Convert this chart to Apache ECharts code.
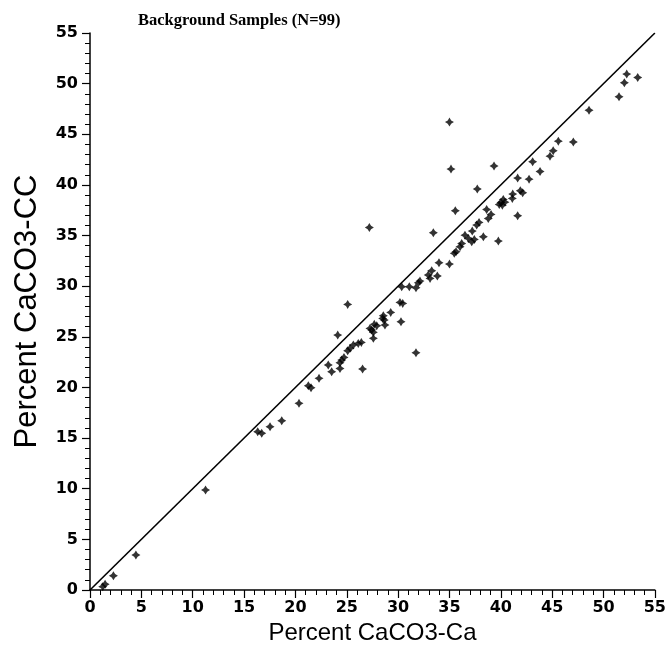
<!DOCTYPE html>
<html>
<head>
<meta charset="utf-8">
<script src="https://cdn.jsdelivr.net/npm/echarts@6/dist/echarts.min.js"></script>
<style>
html,body{margin:0;padding:0;background:#fff;}
#chart{width:669px;height:653px;}
</style>
</head>
<body>
<div id="chart"></div>
<script>
var titleText = "Background Samples (N=99)";
var xAxisName = "Percent CaCO3-Ca";
var yAxisName = "Percent CaCO3-CC";

var xValues = [
  1.24, 1.47, 2.28, 4.47, 11.25,
  25.09, 24.12, 30.18, 29.28, 28.56, 28.5, 27.68, 27.92, 28.72, 27.43, 27.59, 27.59, 30.28, 31.74,
  26.42, 25.64, 25.32, 25.09, 24.73, 24.51, 24.34, 24.34, 23.53, 23.2, 26.54, 22.3, 21.26, 21.52,
  20.35, 18.67, 17.53, 16.33, 16.72,
  35.15, 39.34, 37.71, 35.57, 33.43, 43.1, 43.82, 41.64, 42.75, 45.1, 44.79, 41.9, 42.13, 41.16,
  41.12, 40.24, 40.02, 39.85, 40.15, 41.64, 38.62, 39.05, 38.78, 37.88, 37.65, 37.22, 38.3, 39.76,
  36.51, 36.84, 37.17, 37.42, 36.19, 36.03, 35.64, 35.47, 33.98, 35.0, 33.27, 32.94, 33.11, 33.82,
  32.13, 30.35, 31.09, 31.74,
  52.26, 53.33, 52.03, 51.51, 48.59, 45.6, 47.06,
  35.0, 27.2,
  28.65, 27.26, 26.12, 30.45, 31.97, 40.4
];
var yValues = [
  0.33, 0.56, 1.41, 3.45, 9.87,
  28.2, 25.17, 28.4, 27.41, 27.08, 26.82, 26.23, 26.09, 26.16, 25.67, 25.44, 24.85, 26.49, 23.43,
  24.45, 24.19, 23.86, 23.62, 22.97, 22.7, 22.44, 21.88, 21.55, 22.21, 21.82, 20.9, 20.17, 19.97,
  18.43, 16.71, 16.12, 15.63, 15.47,
  41.56, 41.86, 39.59, 37.44, 35.27, 42.28, 41.33, 40.67, 40.57, 43.37, 42.84, 39.42, 39.22, 39.09,
  38.67, 38.57, 38.27, 38.07, 38.0, 36.95, 37.58, 37.09, 36.69, 36.3, 36.03, 35.44, 34.88, 34.45,
  35.04, 34.72, 34.38, 34.62, 34.22, 33.89, 33.4, 33.24, 32.31, 32.18, 31.52, 31.1, 30.77, 31.0,
  30.5, 29.94, 29.94, 29.84,
  50.94, 50.61, 50.08, 48.7, 47.38, 44.32, 44.23,
  46.2, 35.8,
  26.65, 25.83, 24.35, 28.3, 30.33, 38.3
];
var lineX = [0, 55];
var lineY = [0, 55];

var points = xValues.map(function (x, i) { return [x, yValues[i]]; });
var linePts = lineX.map(function (x, i) { return [x, lineY[i]]; });

var chart = echarts.init(document.getElementById('chart'), null, {renderer: 'canvas'});
var labelStyle = {color: '#000', fontFamily: 'DejaVu Sans', fontWeight: 'bold', fontSize: 16};
chart.setOption({
  animation: false,
  backgroundColor: '#fff',
  title: {
    text: titleText,
    left: 133, top: 7,
    textStyle: {fontFamily: 'Liberation Serif', fontWeight: 'bold', fontSize: 16.5, color: '#000'}
  },
  grid: {left: 90, right: 14, top: 33, bottom: 63, containLabel: false},
  xAxis: {
    type: 'value', min: 0, max: 55, interval: 5,
    name: xAxisName, nameLocation: 'middle', nameGap: 28,
    nameTextStyle: {fontFamily: 'Liberation Sans', fontSize: 24, color: '#000'},
    axisLine: {show: true, onZero: false, lineStyle: {color: '#000', width: 1.5}},
    axisTick: {show: true, length: 8, lineStyle: {color: '#000', width: 1.2}},
    minorTick: {show: true, splitNumber: 5, length: 5, lineStyle: {color: '#000', width: 1}},
    axisLabel: Object.assign({margin: 10}, labelStyle),
    splitLine: {show: false}
  },
  yAxis: {
    type: 'value', min: 0, max: 55, interval: 5,
    name: yAxisName, nameLocation: 'middle', nameGap: 47,
    nameTextStyle: {fontFamily: 'Liberation Sans', fontSize: 31, color: '#000'},
    axisLine: {show: true, onZero: false, lineStyle: {color: '#000', width: 1.5}},
    axisTick: {show: true, length: 8, lineStyle: {color: '#000', width: 1.2}},
    minorTick: {show: true, splitNumber: 5, length: 5, lineStyle: {color: '#000', width: 1}},
    axisLabel: Object.assign({margin: 12}, labelStyle),
    splitLine: {show: false}
  },
  series: [
    {
      type: 'line', data: linePts, showSymbol: false, symbol: 'none',
      lineStyle: {color: '#000', width: 1.6}, z: 2
    },
    {
      type: 'scatter', data: points,
      symbol: 'path://M0,-5 L1.9,-1.9 L5,0 L1.9,1.9 L0,5 L-1.9,1.9 L-5,0 L-1.9,-1.9 Z',
      symbolSize: 9,
      itemStyle: {color: '#000'}, z: 3
    }
  ]
});
</script>
</body>
</html>
